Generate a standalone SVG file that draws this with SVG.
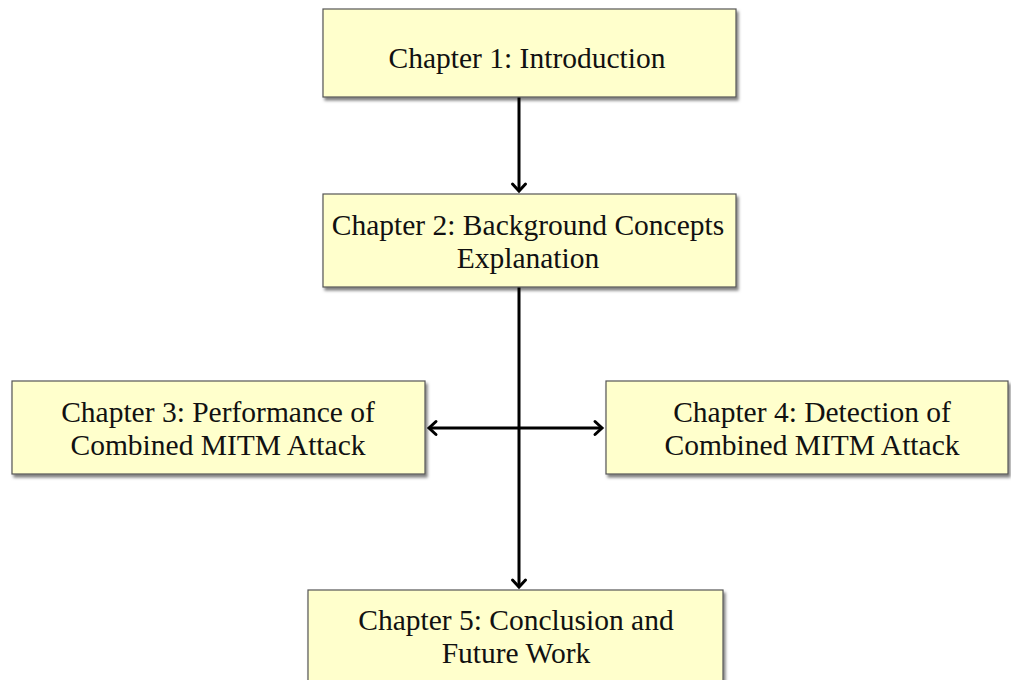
<svg xmlns="http://www.w3.org/2000/svg" width="1011" height="680" viewBox="0 0 1011 680">
  <style>
    .box { fill: #FFFFCC; stroke: #555555; stroke-width: 1.2; filter: url(#shadow); }
    .lbl { font-family: "Liberation Serif", "Times New Roman", serif; font-size: 29.5px; fill: #111111; text-anchor: middle; }
    .conn { stroke: #000000; stroke-width: 3; fill: none; }
  </style>
  <defs>
    <filter id="shadow" x="-10%" y="-10%" width="130%" height="140%">
      <feDropShadow dx="2" dy="3" stdDeviation="1.5" flood-color="#000000" flood-opacity="0.5"/>
    </filter>
    <marker id="arr" markerUnits="userSpaceOnUse" markerWidth="20" markerHeight="20" viewBox="-10 -10 20 20" refX="0" refY="0" orient="auto-start-reverse">
      <path d="M-7,-6.5 L0,0 L-7,6.5" fill="none" stroke="#000000" stroke-width="3" stroke-linecap="round" stroke-linejoin="miter"/>
    </marker>
  </defs>
  <rect width="1011" height="680" fill="#FFFFFF"/>

  <g id="connectors">
    <line class="conn" x1="519" y1="97" x2="519" y2="191" marker-end="url(#arr)"/>
    <line class="conn" x1="519" y1="287" x2="519" y2="587" marker-end="url(#arr)"/>
    <line class="conn" x1="429" y1="428" x2="602" y2="428" marker-start="url(#arr)" marker-end="url(#arr)"/>
  </g>

  <g id="node-ch1">
    <rect class="box" x="323" y="9" width="413" height="88"/>
    <text class="lbl" x="527" y="68">Chapter 1: Introduction</text>
  </g>

  <g id="node-ch2">
    <rect class="box" x="323" y="194" width="413" height="93"/>
    <text class="lbl" x="528" y="235">Chapter 2: Background Concepts</text>
    <text class="lbl" x="528" y="268">Explanation</text>
  </g>

  <g id="node-ch3">
    <rect class="box" x="12" y="381" width="413" height="93"/>
    <text class="lbl" x="218" y="422">Chapter 3: Performance of</text>
    <text class="lbl" x="218" y="455">Combined MITM Attack</text>
  </g>

  <g id="node-ch4">
    <rect class="box" x="606" y="381" width="402" height="93"/>
    <text class="lbl" x="812" y="422">Chapter 4: Detection of</text>
    <text class="lbl" x="812" y="455">Combined MITM Attack</text>
  </g>

  <g id="node-ch5">
    <rect class="box" x="308" y="590" width="415" height="100"/>
    <text class="lbl" x="516" y="630">Chapter 5: Conclusion and</text>
    <text class="lbl" x="516" y="663">Future Work</text>
  </g>
</svg>
